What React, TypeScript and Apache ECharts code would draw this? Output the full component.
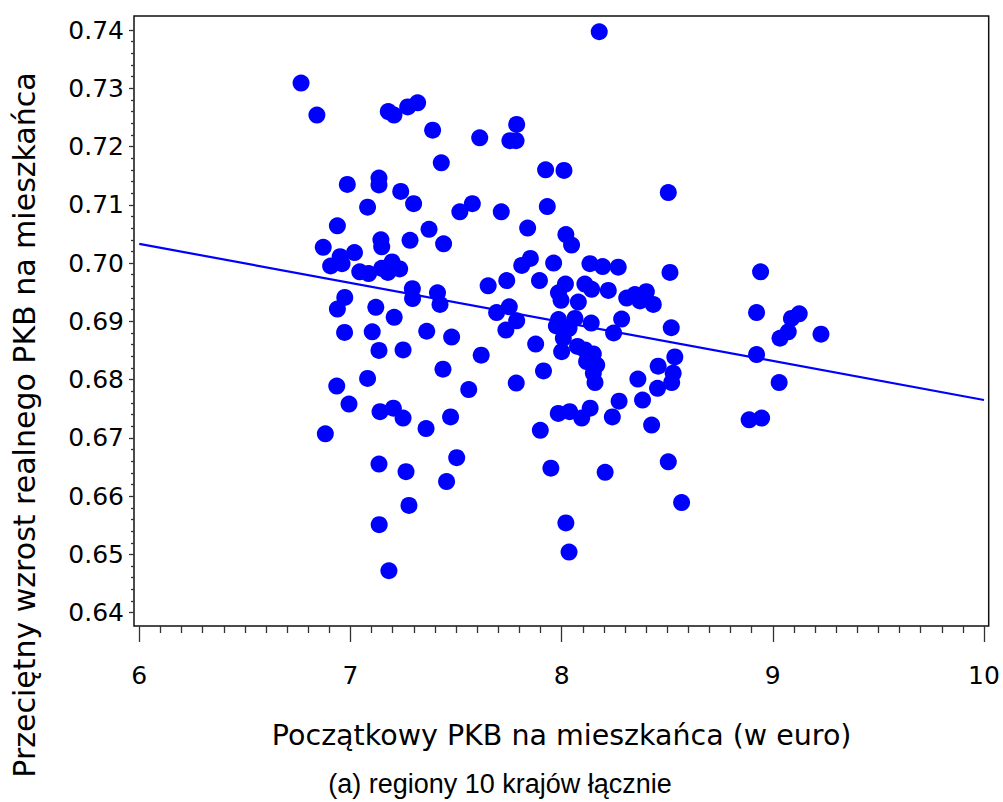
import React, { useEffect, useRef } from "react";
import * as echarts from "echarts";

// Initial GDP per capita (x) and average growth (y)
const gdpStart = [
  6.766, 6.841, 7.179, 7.206, 7.271, 7.318, 7.389, 7.612, 7.787, 7.755,
  7.784, 7.43, 7.924, 8.011, 6.985, 7.135, 7.135, 7.238, 7.299, 7.081,
  7.518, 7.577, 7.714, 7.932, 6.938, 7.372, 7.839, 6.871, 7.144, 7.148,
  7.019, 7.282, 7.441, 6.951, 6.906, 6.96, 7.044, 7.086, 7.148, 7.197,
  7.177, 7.233, 7.811, 7.852, 7.962, 7.74, 7.652, 7.895, 7.293, 7.294,
  7.412, 7.424, 6.973, 6.938, 7.12, 7.207, 7.692, 7.752, 7.787, 7.736,
  6.972, 7.103, 7.361, 7.479, 7.135, 7.249, 7.619, 7.877, 7.438, 7.914,
  7.785, 7.081, 6.935, 7.56, 6.993, 7.14, 7.203, 7.249, 7.474, 7.358,
  6.881, 7.899, 7.135, 7.263, 7.503, 7.455, 7.949, 7.277, 7.136, 8.02,
  8.035, 7.182, 8.178, 8.505, 8.02, 8.047, 8.134, 8.194, 8.268, 8.513,
  8.942, 8.018, 8.11, 7.985, 8.142, 8.221, 7.997, 8.079, 8.308, 8.347,
  8.401, 8.371, 8.434, 7.985, 7.975, 8.063, 8.035, 8.14, 8.284, 8.246,
  8.519, 8.008, 8.0, 8.075, 8.11, 8.15, 8.118, 8.166, 8.15, 8.158,
  8.536, 8.457, 8.528, 8.521, 8.361, 8.454, 8.383, 8.272, 8.24, 8.426,
  7.984, 8.038, 8.095, 8.135, 8.206, 8.505, 8.568, 8.923, 9.088, 9.125,
  9.073, 9.034, 9.228, 8.923, 9.03, 8.888, 8.947,
];

const growth = [
  0.7309, 0.7254, 0.726, 0.7254, 0.7268, 0.7275, 0.7228, 0.7215, 0.7238, 0.721,
  0.721, 0.7172, 0.716, 0.7159, 0.7135, 0.7146, 0.7134, 0.7123, 0.7102, 0.7096,
  0.7088, 0.7102, 0.7088, 0.7097, 0.7064, 0.7058, 0.706, 0.7027, 0.704, 0.7028,
  0.7018, 0.7039, 0.7033, 0.7011, 0.6995, 0.6999, 0.6985, 0.6982, 0.6991, 0.7002,
  0.6984, 0.699, 0.6996, 0.7008, 0.7, 0.697, 0.6961, 0.697, 0.6956, 0.6939,
  0.6949, 0.6929, 0.6941, 0.6921, 0.6924, 0.6907, 0.6915, 0.6925, 0.6901, 0.6885,
  0.6881, 0.6882, 0.6883, 0.6873, 0.685, 0.6851, 0.6842, 0.6861, 0.6818, 0.6815,
  0.6794, 0.6802, 0.6789, 0.6783, 0.6758, 0.6745, 0.6751, 0.6734, 0.6736, 0.6716,
  0.6707, 0.6713, 0.6655, 0.6642, 0.6666, 0.6625, 0.6648, 0.6584, 0.6551, 0.6554,
  0.6504, 0.6472, 0.7397, 0.7121, 0.7049, 0.7031, 0.6999, 0.6994, 0.6993, 0.6984,
  0.6985, 0.6964, 0.6964, 0.6949, 0.6955, 0.6953, 0.6936, 0.6933, 0.694, 0.6946,
  0.6951, 0.6935, 0.6929, 0.6903, 0.6892, 0.6905, 0.6888, 0.6897, 0.6904, 0.688,
  0.6889, 0.6871, 0.6848, 0.6857, 0.6851, 0.6844, 0.6831, 0.6825, 0.6811, 0.6795,
  0.6839, 0.6823, 0.6811, 0.6795, 0.6801, 0.6785, 0.6765, 0.6763, 0.6736, 0.6722,
  0.6742, 0.6745, 0.6734, 0.6751, 0.6641, 0.6659, 0.6589, 0.6915, 0.6905, 0.6913,
  0.6882, 0.6871, 0.6878, 0.6843, 0.6795, 0.6731, 0.6734,
];

// Fitted regression line end points
const fitX = [6, 10];
const fitY = [0.7033, 0.6765];

const xTitle = "Początkowy PKB na mieszkańca (w euro)";
const yTitle = "Przeciętny wzrost realnego PKB na mieszkańca";
const caption = "(a) regiony 10 krajów łącznie";

export default function App() {
  const ref = useRef<HTMLDivElement>(null);

  useEffect(() => {
    if (!ref.current) return;
    const chart = echarts.init(ref.current, null, {
      renderer: "svg",
      width: 1003,
      height: 802,
    });
    const font = "DejaVu Sans";
    chart.setOption({
      animation: false,
      backgroundColor: "#ffffff",
      grid: { left: 139.3, right: 19, top: 30, bottom: 189.3, containLabel: false },
      xAxis: {
        type: "value",
        min: 6,
        max: 10,
        interval: 1,
        offset: 13.3,
        axisLine: { show: false },
        axisTick: { show: true, length: 16, lineStyle: { color: "#333", width: 1.3 } },
        minorTick: { show: true, splitNumber: 10, length: 7, lineStyle: { color: "#333", width: 1.3 } },
        splitLine: { show: false },
        axisLabel: { margin: 37, fontFamily: font, fontSize: 25, color: "#000" },
        name: xTitle,
        nameLocation: "middle",
        nameGap: 95,
        nameTextStyle: { fontFamily: font, fontSize: 28.5, color: "#000" },
      },
      yAxis: {
        type: "value",
        min: 0.64,
        max: 0.74,
        interval: 0.01,
        offset: 5.3,
        axisLine: { show: false },
        axisTick: { show: true, length: 5, lineStyle: { color: "#333", width: 1.3 } },
        minorTick: { show: true, splitNumber: 5, length: 3, lineStyle: { color: "#333", width: 1.3 } },
        splitLine: { show: false },
        axisLabel: {
          margin: 10,
          fontFamily: font,
          fontSize: 25,
          color: "#000",
          formatter: (v: number) => v.toFixed(2),
        },
      },
      graphic: [
        {
          type: "rect",
          silent: true,
          z: 0,
          shape: { x: 134, y: 16, width: 854.7, height: 610 },
          style: { fill: "none", stroke: "#111", lineWidth: 1.5 },
        },
        {
          type: "text",
          silent: true,
          x: 24,
          y: 425,
          rotation: Math.PI / 2,
          style: {
            text: yTitle,
            fontFamily: font,
            fontSize: 30,
            fill: "#000",
            align: "center",
            verticalAlign: "middle",
          },
        },
        {
          type: "text",
          silent: true,
          x: 500,
          y: 784,
          style: {
            text: caption,
            fontFamily: "Liberation Sans",
            fontSize: 27,
            fill: "#000",
            align: "center",
            verticalAlign: "middle",
          },
        },
      ],
      series: [
        {
          type: "line",
          data: fitX.map((x, i) => [x, fitY[i]]),
          showSymbol: false,
          lineStyle: { color: "#0000ff", width: 2.2 },
          z: 2,
        },
        {
          type: "scatter",
          data: gdpStart.map((x, i) => [x, growth[i]]),
          symbol: "circle",
          symbolSize: 17,
          itemStyle: { color: "#0000ff", opacity: 1 },
          z: 3,
        },
      ],
    });
    return () => chart.dispose();
  }, []);

  return (
    <div
      ref={ref}
      style={{ position: "absolute", left: 0, top: 0, width: 1003, height: 802, background: "#fff" }}
    />
  );
}
